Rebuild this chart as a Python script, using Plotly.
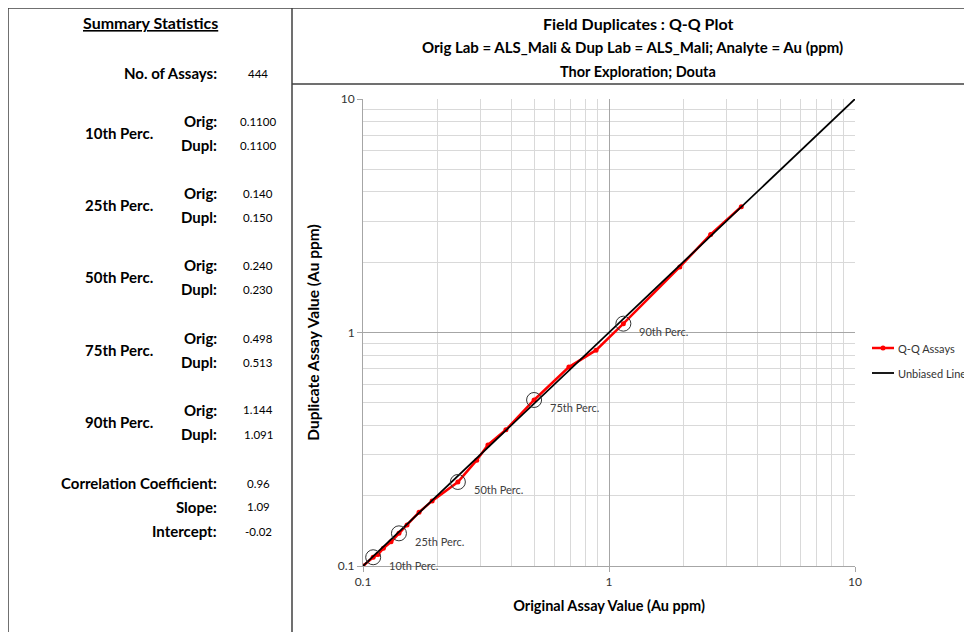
import math

import plotly.graph_objects as go

# Q-Q curve (quantiles, Au ppm)
orig = [0.100, 0.110, 0.115, 0.121, 0.130, 0.140, 0.151, 0.169, 0.191, 0.243,
        0.290, 0.322, 0.381, 0.496, 0.687, 0.886, 1.144, 1.940, 2.590, 3.450]
dupl = [0.100, 0.109, 0.112, 0.119, 0.127, 0.138, 0.150, 0.170, 0.190, 0.229,
        0.284, 0.330, 0.383, 0.514, 0.711, 0.840, 1.091, 1.910, 2.630, 3.460]

unbiased = [0.1, 10]

perc_names = ["10th Perc.", "25th Perc.", "50th Perc.", "75th Perc.", "90th Perc."]
# where the percentile circles sit on the chart
perc_orig = [0.110, 0.140, 0.243, 0.496, 1.144]
perc_dupl = [0.109, 0.138, 0.229, 0.514, 1.091]
# values printed in the summary panel
perc_orig_txt = ["0.1100", "0.140", "0.240", "0.498", "1.144"]
perc_dupl_txt = ["0.1100", "0.150", "0.230", "0.513", "1.091"]

n_assays = "444"
stat_names = ["Correlation Coefficient:", "Slope:", "Intercept:"]
stat_vals = ["0.96", "1.09", "-0.02"]

W, H = 972, 632
OFF = 8  # page body margin
L, R, T, B = 363 - OFF, 855 - OFF, 99 - OFF, 566 - OFF  # plot area in figure pixels
FONT = "Lato"


# convert screen pixels of the picture to paper coordinates
def px(x):
    return (x - OFF - L) / (R - L)


def py(y):
    return (B - (y - OFF)) / (B - T)


fig = go.Figure()

fig.add_trace(go.Scatter(
    x=orig, y=dupl, mode="lines+markers", name="Q-Q Assays",
    line=dict(color="#ff0000", width=2.5),
    marker=dict(color="#ff0000", size=5),
))
fig.add_trace(go.Scatter(
    x=unbiased, y=unbiased, mode="lines", name="Unbiased Line",
    line=dict(color="black", width=1.8),
))
fig.add_trace(go.Scatter(
    x=perc_orig, y=perc_dupl, mode="markers", name="Percentiles",
    marker=dict(symbol="circle-open", size=15, color="#333333", line=dict(width=1)),
))

ann = []
for name, xo, yd in zip(perc_names, perc_orig, perc_dupl):
    ann.append(dict(x=math.log10(xo), y=math.log10(yd), xref="x", yref="y",
                    text=name, showarrow=False,
                    xanchor="left", yanchor="middle", xshift=14, yshift=-8,
                    font=dict(family=FONT, size=11, color="#404040")))


def txt(x, y, s, anchor="center", size=15, bold=True, color="black"):
    ann.append(dict(x=px(x), y=py(y), xref="paper", yref="paper",
                    text="<b>%s</b>" % s if bold else s, showarrow=False,
                    xanchor=anchor, yanchor="middle",
                    font=dict(family=FONT, size=size, color=color)))


# left panel: summary statistics
txt(150, 22, "<u>Summary Statistics</u>", size=16)
txt(219, 73, "No. of Assays:", anchor="right")
txt(258, 73, n_assays, size=11.5, bold=False)
row_y = [133, 205, 277, 350, 422]
for name, yo, so, sd in zip(perc_names, row_y, perc_orig_txt, perc_dupl_txt):
    txt(119, yo, name)
    txt(219, yo - 12, "Orig:", anchor="right")
    txt(219, yo + 12, "Dupl:", anchor="right")
    txt(258, yo - 12, so, size=11.5, bold=False)
    txt(258, yo + 12, sd, size=11.5, bold=False)
for name, val, yy in zip(stat_names, stat_vals, [483, 507, 531]):
    txt(219, yy, name, anchor="right")
    txt(258, yy, val, size=11.5, bold=False)

# chart titles
txt(638, 23, "Field Duplicates : Q-Q Plot", size=16)
txt(632, 47, "Orig Lab = ALS_Mali &amp; Dup Lab = ALS_Mali; Analyte = Au (ppm)", size=15)
txt(638, 71, "Thor Exploration; Douta", size=14.5)

# frame lines
shapes = []
for x0, y0, x1, y1 in [(8, 8, 980, 8), (8, 8, 8, 640), (292, 8, 292, 640),
                       (292, 84, 980, 84)]:
    shapes.append(dict(type="line", xref="paper", yref="paper",
                       x0=px(x0), y0=py(y0), x1=px(x1), y1=py(y1),
                       line=dict(color="#404040", width=1.5)))

# legend drawn by hand (a plotly legend would push the right margin)
legend_names = ["Q-Q Assays", "Unbiased Line"]
legend_colors = ["#ff0000", "black"]
legend_widths = [2.5, 1.8]
for i, (name, col, lw) in enumerate(zip(legend_names, legend_colors, legend_widths)):
    ly = 348 + 25 * i
    shapes.append(dict(type="line", xref="paper", yref="paper",
                       x0=px(872), x1=px(894), y0=py(ly), y1=py(ly),
                       line=dict(color=col, width=lw)))
    txt(896, ly, name, anchor="left", size=11, bold=False, color="#333333")
shapes.append(dict(type="circle", xref="paper", yref="paper",
                   x0=px(880.5), x1=px(885.5), y0=py(345.5), y1=py(350.5),
                   fillcolor="#ff0000", line=dict(width=0)))

axis_common = dict(
    type="log", range=[-1, 1], showgrid=True, gridcolor="#a6a6a6",
    gridwidth=1, showline=True, linecolor="#a6a6a6", linewidth=1,
    ticks="outside", ticklen=5, tickcolor="#a6a6a6", zeroline=False,
    tickvals=[0.1, 1, 10], ticktext=["0.1", "1", "10"],
    tickfont=dict(family=FONT, size=12, color="#333333"),
    minor=dict(dtick="D1", showgrid=True, gridcolor="#d9d9d9", gridwidth=1),
)

fig.update_layout(
    width=W, height=H,
    margin=dict(l=L, r=W - R, t=T, b=H - B),
    paper_bgcolor="white", plot_bgcolor="white",
    xaxis=dict(axis_common,
               title=dict(text="<b>Original Assay Value (Au ppm)</b>", standoff=12,
                          font=dict(family=FONT, size=14.5, color="black"))),
    yaxis=dict(axis_common,
               title=dict(text="<b>Duplicate Assay Value (Au ppm)</b>", standoff=14,
                          font=dict(family=FONT, size=15.5, color="black"))),
    annotations=ann,
    shapes=shapes,
    showlegend=False,
)

fig.write_html("out.html")
